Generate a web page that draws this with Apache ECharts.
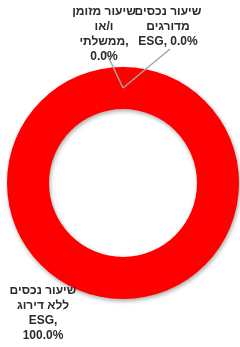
<!DOCTYPE html>
<html>
<head>
<meta charset="utf-8">
<script src="https://cdn.jsdelivr.net/npm/echarts@6/dist/echarts.min.js"></script>
<style>
    html, body { margin: 0; padding: 0; background: #fff; }
    #chart { width: 240px; height: 347px; }
</style>
</head>
<body>
<div id="chart"></div>
<script>
    // categories (line breaks as in the original labels)
    var names = [
        'שיעור נכסים\nמדורגים\nESG',
        'שיעור מזומן\nו/או\nממשלתי',
        'שיעור נכסים\nללא דירוג\nESG'
    ];
    var values = [0, 0, 100];
    var colors = ['#4472c4', '#a5a5a5', '#ff0000'];

    // where each label block sits (center x, top y) and gap under it for the leader
    var labelPos = [
        { x: 168, y: 4, gap: 3 },
        { x: 104, y: 4, gap: 6 },
        { x: 43, y: 283, gap: 0 }
    ];

    var myChart = echarts.init(document.getElementById('chart'));

    var labelStyle = {
        show: true,
        position: 'outside',
        fontFamily: 'Liberation Sans',
        fontWeight: 'bold',
        fontSize: 12,
        lineHeight: 15,
        color: '#2b2b2b',
        align: 'center',
        formatter: function (p) {
            // the rated-assets label keeps "ESG, x%" on one line
            var pct = p.percent.toFixed(1) + '%';
            if (p.dataIndex === 0) return p.name + ', ' + pct;
            return p.name + ',\n' + pct;
        }
    };

    function layoutLabel(params) {
        var pos = labelPos[params.dataIndex];
        var out = { x: pos.x, y: pos.y, align: 'center', verticalAlign: 'top' };
        var pts = params.labelLinePoints;
        if (pts && values[params.dataIndex] === 0) {
            // leader runs from inside the ring up to under the label
            var start = [pts[0][0], pts[0][1] + 21];
            var end = [pos.x + 2, pos.y + params.rect.height + pos.gap];
            out.labelLinePoints = [
                start,
                [(start[0] + end[0]) / 2, (start[1] + end[1]) / 2],
                end
            ];
        }
        return out;
    }

    // ring itself + label of the full slice
    var ringData = names.map(function (n, i) {
        return {
            name: n, value: values[i],
            itemStyle: { color: colors[i] },
            label: { show: values[i] > 0 }
        };
    });
    // same slices again, invisible, only to carry the zero labels and leaders above the ring
    var topData = names.map(function (n, i) {
        return {
            name: n, value: values[i],
            label: { show: values[i] === 0 },
            labelLine: { show: values[i] === 0 }
        };
    });

    var options = {
        animation: false,
        series: [{
            type: 'pie',
            z: 2,
            center: [123, 183],
            radius: [74, 116],
            startAngle: 90,
            clockwise: true,
            avoidLabelOverlap: false,
            data: ringData,
            itemStyle: {
                shadowBlur: 4,
                shadowColor: 'rgba(0,0,0,0.35)',
                shadowOffsetX: 1,
                shadowOffsetY: 2
            },
            label: labelStyle,
            labelLine: { show: false },
            labelLayout: layoutLabel
        }, {
            type: 'pie',
            z: 5,
            silent: true,
            center: [123, 183],
            radius: [74, 116],
            startAngle: 90,
            clockwise: true,
            avoidLabelOverlap: false,
            data: topData,
            itemStyle: { color: 'rgba(0,0,0,0)' },
            label: labelStyle,
            labelLine: {
                show: true,
                lineStyle: { color: '#a6a6a6', width: 1.5 }
            },
            labelLayout: layoutLabel
        }]
    };
    myChart.setOption(options);
    window.addEventListener('resize', myChart.resize);
</script>
</body>
</html>
